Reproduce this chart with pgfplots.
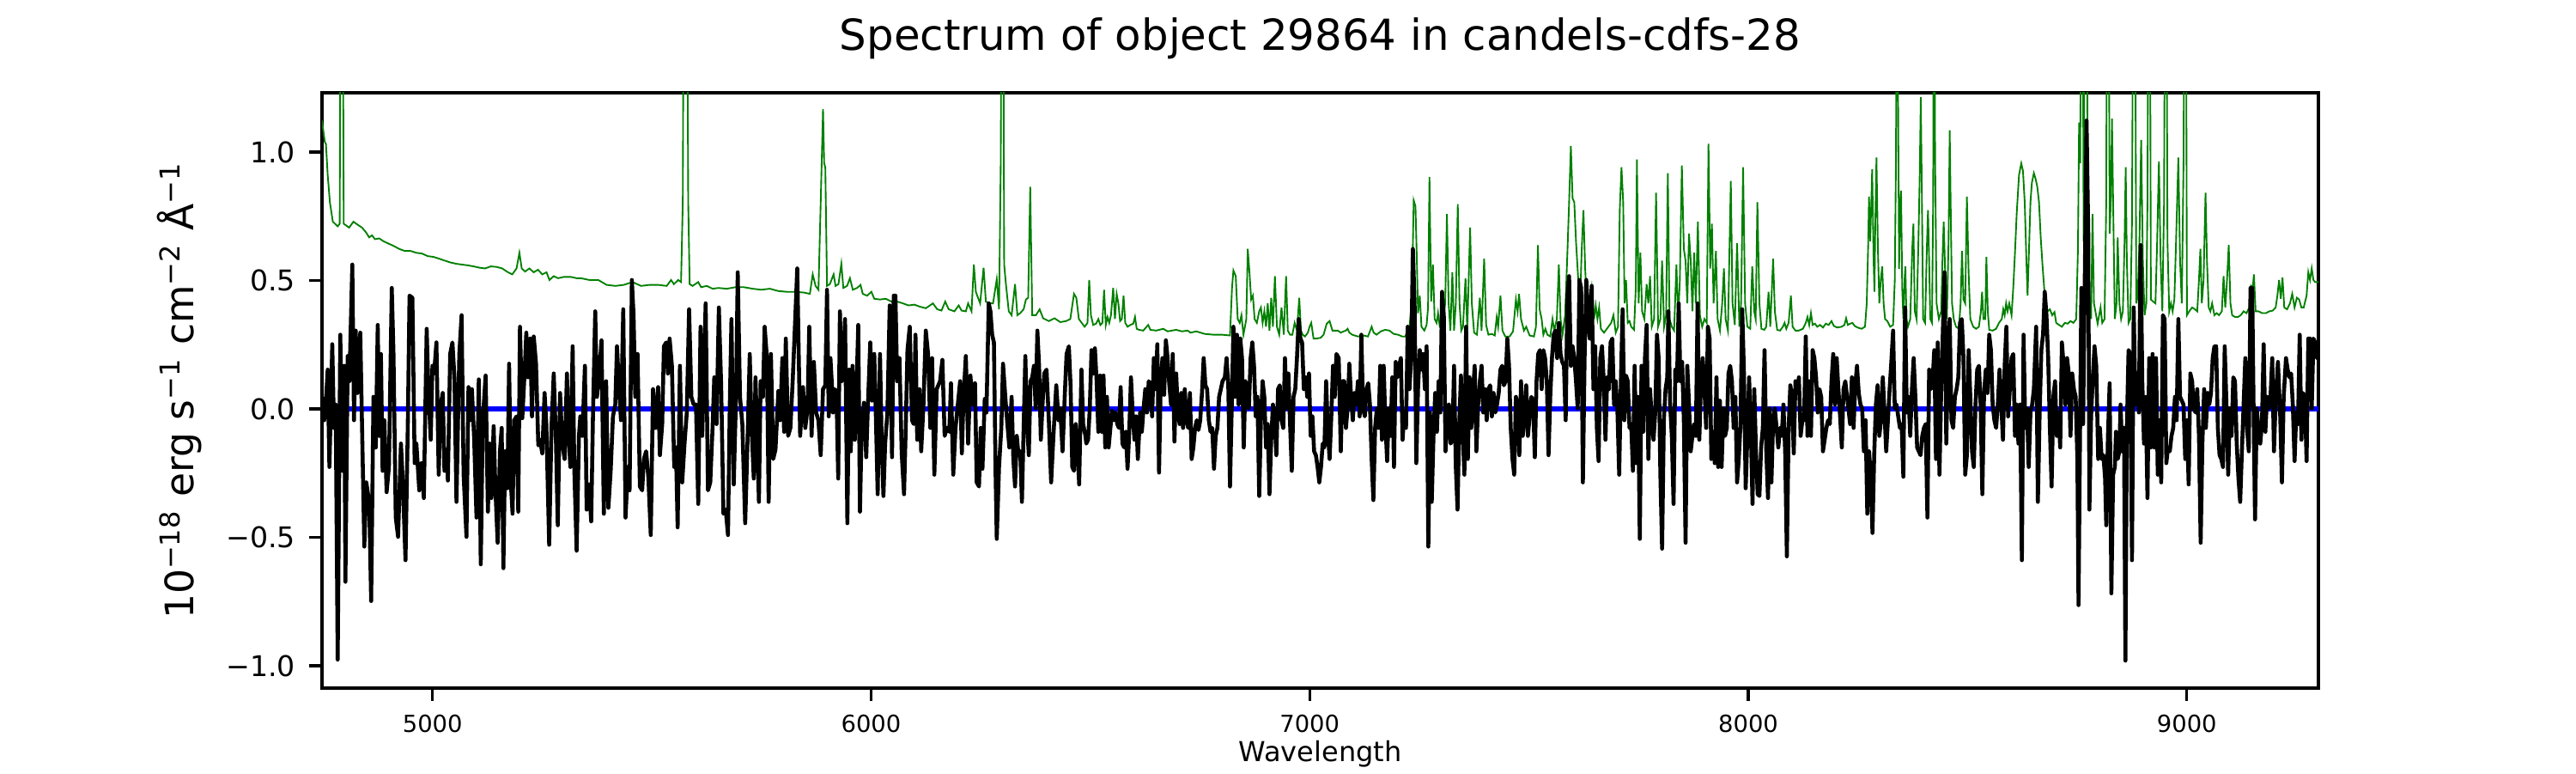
\documentclass[border=0pt]{standalone}
\usepackage{fontspec}
\setmainfont{DejaVu Sans}
\usepackage{pgfplots}
\usepackage{pgfplotstable}
\pgfplotsset{compat=1.18}
\definecolor{mplgreen}{HTML}{008000}

\pgfplotstableread{
x y
4748.0 1.123
4754.4 1.039
4757.0 1.032
4761.0 0.911
4766.0 0.805
4772.7 0.729
4783.8 0.711
4788.4 0.721
4791.0 2.0
4794.9 2.0
4797.5 0.721
4803.4 0.714
4809.9 0.706
4819.7 0.729
4829.5 0.717
4839.3 0.706
4849.0 0.686
4855.6 0.668
4862.1 0.676
4868.6 0.661
4878.4 0.664
4888.2 0.653
4898.0 0.645
4911.0 0.635
4924.0 0.623
4937.0 0.615
4950.0 0.615
4963.0 0.608
4976.0 0.605
4989.0 0.595
5002.0 0.592
5015.0 0.585
5028.5 0.577
5041.5 0.570
5054.6 0.565
5067.6 0.562
5080.7 0.559
5093.7 0.555
5106.8 0.550
5119.8 0.547
5132.9 0.555
5146.0 0.553
5159.0 0.547
5172.0 0.532
5181.8 0.524
5191.6 0.547
5198.1 0.608
5203.4 0.547
5211.0 0.535
5221.0 0.547
5230.7 0.532
5240.5 0.542
5250.3 0.524
5260.0 0.532
5266.6 0.502
5276.4 0.517
5286.2 0.509
5299.3 0.514
5315.6 0.514
5328.6 0.509
5338.0 0.509
5358.0 0.502
5378.0 0.502
5397.0 0.483
5417.0 0.479
5436.0 0.483
5456.0 0.494
5475.4 0.479
5495.0 0.483
5514.5 0.483
5534.0 0.479
5543.9 0.502
5550.4 0.486
5560.2 0.502
5566.7 0.494
5570.6 0.805
5573.3 2.0
5579.8 2.0
5583.0 0.805
5586.3 0.486
5592.8 0.479
5605.9 0.494
5612.4 0.474
5625.5 0.479
5638.5 0.468
5651.6 0.471
5671.0 0.468
5690.7 0.474
5710.0 0.474
5729.9 0.468
5749.4 0.464
5769.0 0.468
5788.6 0.459
5808.0 0.456
5827.7 0.456
5847.3 0.453
5860.4 0.448
5866.9 0.524
5873.4 0.479
5880.0 0.464
5885.1 0.805
5890.4 1.168
5893.0 0.956
5895.6 0.941
5899.5 0.479
5906.0 0.486
5914.5 0.524
5919.0 0.479
5925.6 0.486
5932.2 0.565
5936.7 0.471
5945.2 0.479
5951.7 0.509
5958.3 0.464
5968.0 0.471
5975.9 0.483
5981.0 0.448
5990.9 0.441
6000.7 0.456
6007.2 0.429
6020.2 0.426
6033.3 0.429
6046.4 0.418
6059.4 0.418
6072.5 0.411
6085.5 0.403
6098.6 0.406
6111.6 0.398
6124.7 0.392
6141.0 0.411
6150.8 0.388
6160.5 0.383
6169.0 0.418
6176.9 0.388
6189.9 0.380
6199.7 0.403
6206.2 0.383
6216.0 0.380
6221.2 0.411
6229.0 0.380
6234.3 0.562
6238.8 0.456
6248.6 0.411
6256.5 0.550
6261.7 0.418
6268.2 0.411
6278.0 0.411
6286.5 0.505
6291.7 0.388
6295.6 0.956
6298.2 2.0
6300.8 2.0
6303.4 0.562
6307.4 0.486
6313.9 0.380
6320.4 0.365
6328.2 0.486
6333.5 0.365
6340.0 0.373
6347.8 0.388
6353.0 0.426
6358.2 0.433
6362.8 0.865
6367.4 0.365
6375.9 0.365
6384.3 0.388
6392.2 0.353
6405.2 0.342
6418.3 0.353
6431.3 0.338
6444.4 0.342
6454.2 0.350
6462.6 0.448
6467.9 0.433
6473.7 0.350
6486.8 0.320
6493.4 0.335
6497.3 0.502
6501.2 0.365
6506.4 0.327
6513.0 0.332
6518.1 0.350
6522.7 0.327
6527.3 0.335
6531.2 0.464
6535.1 0.327
6539.0 0.358
6543.0 0.335
6546.9 0.365
6552.0 0.471
6556.0 0.350
6559.9 0.448
6563.8 0.411
6567.7 0.342
6571.7 0.350
6575.6 0.441
6579.5 0.335
6584.7 0.320
6591.2 0.327
6597.8 0.332
6601.7 0.358
6605.6 0.312
6610.8 0.308
6620.6 0.305
6631.7 0.327
6636.9 0.308
6650.0 0.305
6666.3 0.312
6676.0 0.302
6695.6 0.308
6708.7 0.302
6721.7 0.305
6728.3 0.297
6741.3 0.302
6760.9 0.292
6780.5 0.289
6800.0 0.289
6818.3 0.286
6822.9 0.471
6826.1 0.539
6831.4 0.517
6835.9 0.350
6840.5 0.335
6844.4 0.365
6849.0 0.289
6855.5 0.350
6858.8 0.623
6862.7 0.532
6866.6 0.426
6870.5 0.441
6874.4 0.350
6879.6 0.335
6884.9 0.380
6888.8 0.395
6892.7 0.335
6896.6 0.380
6900.5 0.320
6904.4 0.411
6908.3 0.305
6912.3 0.433
6916.2 0.320
6920.7 0.517
6925.3 0.320
6930.5 0.289
6935.8 0.395
6941.0 0.289
6946.2 0.517
6950.1 0.305
6955.3 0.289
6960.5 0.289
6965.7 0.335
6971.0 0.305
6976.2 0.433
6980.1 0.305
6984.0 0.289
6989.3 0.282
6995.8 0.297
6999.7 0.320
7003.6 0.335
7008.8 0.274
7015.4 0.274
7025.1 0.277
7031.7 0.289
7038.8 0.332
7045.4 0.342
7051.9 0.305
7064.3 0.305
7070.9 0.297
7077.4 0.302
7082.6 0.305
7086.5 0.312
7090.4 0.297
7097.0 0.289
7110.0 0.282
7123.0 0.286
7132.8 0.282
7141.3 0.320
7145.9 0.297
7152.4 0.289
7162.2 0.302
7172.0 0.308
7181.8 0.305
7191.6 0.292
7201.4 0.289
7211.1 0.282
7218.3 0.282
7222.2 0.305
7227.5 0.320
7232.7 0.411
7237.2 0.812
7241.2 0.789
7244.4 0.577
7247.0 0.373
7251.0 0.441
7254.9 0.320
7261.4 0.305
7266.6 0.327
7269.9 0.395
7273.1 0.903
7277.0 0.418
7281.0 0.562
7284.9 0.350
7289.4 0.335
7292.7 0.373
7296.6 0.320
7300.5 0.312
7304.4 0.350
7309.0 0.411
7312.9 0.759
7316.8 0.411
7320.8 0.305
7325.3 0.532
7329.2 0.305
7333.2 0.411
7337.7 0.797
7341.6 0.411
7345.6 0.305
7349.5 0.320
7355.3 0.509
7359.3 0.305
7365.8 0.706
7369.7 0.411
7374.9 0.297
7381.4 0.289
7388.0 0.433
7391.9 0.305
7397.8 0.585
7402.3 0.327
7407.5 0.289
7415.4 0.292
7421.9 0.286
7426.5 0.358
7429.7 0.320
7435.0 0.441
7439.5 0.305
7446.0 0.282
7455.8 0.282
7463.7 0.302
7470.2 0.426
7474.1 0.380
7477.4 0.448
7481.9 0.350
7488.5 0.305
7493.7 0.320
7501.5 0.286
7511.3 0.282
7515.9 0.320
7520.4 0.638
7524.3 0.388
7528.9 0.350
7532.8 0.289
7537.4 0.312
7542.0 0.289
7548.5 0.282
7553.7 0.350
7557.6 0.305
7563.5 0.350
7568.1 0.562
7572.0 0.350
7576.5 0.289
7582.4 0.365
7587.6 0.608
7591.5 0.805
7595.5 1.024
7599.4 0.820
7603.3 0.805
7607.2 0.653
7612.4 0.502
7616.4 0.411
7620.3 0.623
7624.2 0.774
7628.1 0.547
7632.0 0.411
7638.5 0.411
7643.0 0.471
7648.3 0.350
7652.2 0.403
7656.1 0.350
7660.0 0.395
7663.9 0.312
7671.1 0.297
7677.6 0.312
7687.4 0.335
7692.6 0.365
7697.8 0.297
7703.0 0.320
7707.0 0.774
7710.9 0.941
7714.8 0.805
7718.0 0.411
7721.3 0.502
7725.2 0.335
7729.2 0.342
7733.1 0.320
7739.6 0.308
7743.5 0.471
7746.1 0.971
7750.0 0.411
7754.0 0.608
7757.9 0.380
7763.1 0.350
7768.3 0.486
7772.2 0.411
7776.1 0.517
7780.0 0.320
7785.3 0.350
7789.8 0.842
7794.4 0.320
7799.6 0.350
7803.5 0.577
7808.1 0.320
7812.7 0.365
7816.6 0.918
7820.5 0.350
7825.7 0.320
7830.9 0.305
7836.2 0.562
7840.1 0.350
7844.0 0.502
7848.6 0.948
7853.1 0.623
7857.0 0.577
7861.0 0.411
7864.9 0.683
7868.8 0.577
7872.7 0.380
7876.6 0.608
7880.5 0.411
7885.1 0.729
7889.7 0.365
7894.9 0.320
7900.1 0.350
7905.3 0.335
7909.3 1.032
7913.2 0.547
7917.1 0.721
7921.0 0.411
7926.2 0.615
7930.1 0.350
7935.4 0.305
7940.6 0.411
7944.5 0.547
7948.4 0.350
7953.6 0.305
7960.2 0.888
7964.1 0.411
7969.3 0.327
7974.5 0.645
7979.7 0.320
7983.6 0.411
7988.2 0.941
7992.8 0.411
7998.0 0.320
8004.5 0.312
8009.1 0.555
8013.6 0.380
8016.9 0.350
8020.8 0.805
8025.4 0.411
8030.0 0.312
8036.5 0.308
8041.0 0.320
8046.3 0.456
8050.2 0.320
8056.7 0.585
8060.6 0.380
8065.9 0.308
8072.4 0.305
8078.9 0.320
8082.8 0.335
8086.7 0.312
8092.0 0.335
8097.2 0.441
8101.1 0.320
8107.6 0.305
8114.8 0.305
8124.6 0.312
8131.1 0.335
8135.0 0.358
8139.0 0.327
8142.9 0.373
8146.8 0.327
8152.0 0.332
8157.2 0.320
8163.7 0.327
8170.3 0.317
8176.8 0.332
8183.3 0.327
8189.8 0.342
8195.1 0.323
8202.9 0.317
8212.7 0.320
8219.2 0.327
8223.1 0.353
8227.0 0.327
8232.3 0.332
8237.5 0.335
8242.7 0.323
8249.2 0.317
8258.4 0.312
8266.2 0.320
8270.1 0.411
8273.4 0.638
8275.3 0.827
8278.0 0.653
8280.6 0.805
8282.5 0.933
8285.8 0.577
8287.7 0.456
8289.7 0.729
8292.3 0.979
8295.6 0.623
8298.8 0.411
8302.1 0.502
8305.4 0.555
8308.6 0.411
8311.9 0.350
8317.1 0.342
8323.6 0.320
8330.2 0.327
8334.1 0.502
8336.7 0.956
8339.3 2.0
8341.9 1.108
8343.9 0.545
8346.5 0.805
8348.4 0.850
8351.0 0.471
8353.6 0.350
8356.3 0.502
8358.2 0.555
8360.8 0.350
8364.1 0.320
8369.3 0.350
8373.9 0.623
8376.5 0.721
8379.7 0.380
8383.7 0.350
8387.6 0.623
8390.8 0.896
8393.4 1.214
8396.0 0.805
8398.7 0.350
8403.2 0.335
8407.1 0.623
8409.8 0.774
8412.4 0.577
8415.0 0.350
8418.9 0.335
8421.5 0.805
8423.5 2.0
8426.1 0.956
8429.3 0.411
8434.6 0.350
8439.8 0.380
8443.0 0.592
8445.6 0.729
8448.9 0.532
8452.8 0.350
8456.7 0.653
8459.3 1.085
8462.0 0.729
8464.6 0.411
8468.5 0.350
8473.7 0.320
8480.2 0.312
8484.1 0.411
8487.4 0.615
8490.7 0.426
8494.6 0.411
8498.5 0.827
8502.4 0.532
8506.3 0.350
8512.9 0.320
8519.4 0.312
8525.9 0.320
8530.5 0.380
8533.1 0.456
8536.3 0.350
8540.3 0.350
8542.9 0.592
8546.1 0.380
8549.4 0.308
8557.2 0.305
8565.1 0.312
8571.6 0.335
8578.1 0.350
8581.4 0.388
8584.6 0.365
8587.9 0.411
8591.2 0.380
8595.1 0.411
8600.3 0.365
8604.2 0.471
8608.1 0.608
8612.0 0.759
8617.3 0.911
8622.5 0.956
8626.4 0.926
8630.3 0.805
8634.2 0.577
8636.8 0.441
8640.7 0.653
8643.4 0.805
8646.6 0.880
8651.2 0.918
8655.1 0.896
8659.0 0.865
8662.9 0.805
8666.8 0.668
8670.8 0.562
8674.7 0.471
8678.6 0.403
8682.5 0.380
8687.7 0.388
8693.0 0.365
8698.2 0.377
8702.1 0.335
8708.6 0.327
8715.1 0.320
8721.7 0.335
8728.2 0.332
8734.7 0.342
8741.2 0.335
8747.8 0.350
8751.7 0.623
8754.3 1.115
8756.9 0.956
8759.5 2.0
8762.1 2.0
8764.7 0.653
8767.3 2.0
8771.3 2.0
8773.9 0.805
8777.8 0.411
8781.7 0.350
8785.0 0.759
8788.2 0.411
8796.6 0.332
8803.2 0.395
8807.1 0.335
8812.3 0.350
8816.2 0.805
8818.2 2.0
8821.4 2.0
8824.0 0.683
8826.6 0.805
8829.3 1.130
8831.9 0.805
8835.8 0.350
8839.7 0.411
8842.3 0.668
8846.2 0.411
8850.1 0.350
8854.1 0.380
8858.0 0.653
8860.6 0.941
8863.2 0.577
8867.1 0.335
8871.0 0.350
8874.9 0.729
8878.2 2.0
8881.5 2.0
8884.7 0.411
8888.0 0.441
8891.9 0.653
8895.8 1.047
8899.7 0.577
8903.6 0.365
8907.6 0.411
8910.2 0.805
8912.8 2.0
8915.4 2.0
8918.0 0.426
8923.2 0.418
8928.4 0.411
8932.3 0.653
8936.3 0.964
8940.2 0.577
8944.1 0.380
8948.0 0.805
8950.6 2.0
8953.2 2.0
8955.8 0.653
8959.8 0.380
8963.7 0.411
8967.6 0.380
8971.5 0.426
8975.4 0.653
8980.6 0.979
8984.5 0.577
8988.5 0.411
8992.4 0.956
8995.0 2.0
8997.6 2.0
9000.2 0.365
9005.4 0.380
9012.0 0.395
9018.5 0.388
9023.7 0.380
9027.6 0.502
9030.9 0.623
9034.1 0.411
9038.1 0.502
9042.6 0.842
9045.9 0.577
9049.8 0.395
9053.7 0.380
9057.6 0.411
9062.8 0.365
9068.1 0.373
9073.3 0.365
9079.8 0.380
9083.7 0.517
9087.6 0.395
9091.6 0.502
9095.5 0.638
9099.4 0.411
9103.3 0.365
9109.8 0.358
9116.4 0.358
9122.9 0.365
9129.4 0.380
9135.9 0.373
9142.5 0.395
9146.4 0.479
9150.3 0.471
9152.9 0.524
9156.8 0.380
9163.3 0.380
9171.8 0.373
9180.3 0.373
9188.1 0.380
9196.0 0.383
9202.5 0.395
9206.4 0.441
9210.3 0.502
9214.2 0.429
9218.1 0.512
9222.1 0.395
9228.6 0.388
9235.1 0.411
9240.3 0.448
9245.6 0.395
9250.8 0.433
9256.0 0.426
9261.2 0.395
9266.4 0.395
9273.0 0.441
9276.9 0.532
9280.8 0.502
9284.7 0.547
9288.6 0.502
9292.5 0.494
9297.7 0.494
9300.4 0.494
}\skydata

\pgfplotstableread{
x y
4749.2 0.047
4753.1 -0.044
4757.0 0.032
4761.0 0.153
4764.9 -0.226
4771.4 0.252
4775.3 -0.074
4779.2 0.017
4783.8 -0.976
4789.7 0.289
4794.9 -0.241
4798.8 0.168
4801.4 -0.673
4806.6 0.206
4810.5 0.108
4817.1 0.562
4821.0 -0.044
4824.9 0.305
4828.8 0.062
4835.3 0.297
4844.5 -0.536
4849.0 -0.286
4855.6 -0.362
4860.1 -0.748
4865.3 0.047
4870.6 -0.150
4875.1 0.327
4878.4 -0.105
4882.3 0.214
4886.2 -0.241
4890.1 -0.044
4895.4 -0.324
4900.6 -0.226
4907.1 0.471
4911.0 0.214
4916.2 -0.423
4921.5 -0.498
4928.0 -0.135
4931.9 -0.271
4938.4 -0.589
4943.7 -0.059
4947.6 0.441
4954.1 0.433
4959.3 -0.211
4963.2 -0.135
4969.8 -0.317
4975.0 -0.211
4980.2 -0.347
4986.7 0.312
4990.6 0.077
4995.9 -0.120
4999.8 0.168
5003.7 0.138
5008.9 0.259
5014.1 -0.256
5018.7 0.017
5023.3 0.062
5027.2 -0.241
5032.4 -0.158
5035.0 -0.279
5040.2 0.214
5045.4 0.259
5050.0 0.123
5054.6 -0.362
5061.1 0.214
5066.3 0.365
5070.9 -0.256
5077.4 -0.498
5082.0 0.085
5085.9 -0.044
5089.8 0.077
5095.0 -0.120
5100.3 -0.423
5105.5 0.115
5110.0 -0.605
5114.6 -0.044
5121.1 0.130
5126.3 -0.400
5130.3 -0.135
5134.2 -0.347
5139.4 -0.067
5143.3 -0.309
5148.5 -0.521
5153.8 -0.165
5157.7 -0.074
5161.6 -0.620
5165.5 -0.165
5170.7 -0.309
5174.6 0.176
5178.6 -0.286
5182.5 -0.408
5186.4 -0.044
5191.6 -0.029
5195.5 -0.400
5199.4 0.320
5204.7 -0.036
5209.9 0.138
5213.8 0.297
5217.7 0.123
5222.9 0.274
5226.8 -0.029
5230.8 0.282
5236.0 0.176
5241.2 -0.142
5245.1 -0.120
5250.3 -0.173
5255.5 0.062
5259.5 -0.059
5266.0 -0.529
5271.2 -0.074
5276.4 0.138
5281.6 -0.135
5285.6 -0.453
5290.8 0.062
5296.0 -0.135
5301.2 -0.195
5306.5 0.138
5310.4 -0.105
5314.3 -0.226
5319.5 0.244
5323.4 -0.241
5328.6 -0.552
5333.9 -0.105
5337.0 -0.029
5341.6 -0.105
5347.5 0.168
5351.4 -0.392
5356.6 -0.294
5361.8 -0.438
5365.8 -0.029
5371.0 0.380
5374.9 0.047
5378.8 0.108
5385.3 0.267
5390.6 -0.408
5395.8 0.108
5401.0 -0.385
5406.2 -0.241
5411.4 -0.029
5416.7 0.017
5420.6 0.244
5424.5 0.108
5429.7 -0.044
5434.9 0.388
5440.1 -0.423
5445.4 -0.226
5449.3 -0.317
5454.5 0.502
5458.4 0.365
5462.3 0.047
5467.5 0.214
5472.8 -0.302
5478.0 -0.317
5481.9 -0.195
5487.1 -0.165
5492.3 -0.271
5497.6 -0.491
5502.8 0.077
5508.0 -0.074
5514.5 0.085
5518.4 -0.180
5523.7 -0.059
5527.6 0.244
5532.8 0.259
5536.7 0.138
5540.6 0.274
5545.8 0.168
5551.1 -0.226
5555.0 -0.150
5558.9 -0.461
5564.1 0.168
5569.3 -0.286
5574.6 -0.135
5579.8 -0.014
5585.0 0.388
5590.2 0.047
5595.4 0.017
5600.7 0.017
5605.9 -0.370
5611.1 0.320
5615.0 -0.105
5618.9 0.168
5622.8 0.411
5628.1 -0.317
5633.3 -0.286
5638.5 -0.074
5642.4 0.123
5647.6 -0.059
5652.9 0.395
5658.1 0.092
5663.3 -0.408
5668.5 -0.392
5673.7 -0.491
5677.7 0.002
5681.6 0.350
5686.8 -0.294
5692.0 0.047
5695.9 0.532
5701.1 0.047
5706.4 -0.059
5712.9 -0.445
5718.1 -0.135
5723.3 0.214
5727.2 -0.059
5732.5 -0.271
5736.4 0.123
5740.3 -0.105
5744.2 -0.362
5748.1 0.108
5753.3 0.047
5757.3 0.320
5762.5 0.198
5766.4 -0.362
5771.6 0.214
5776.8 -0.195
5782.0 -0.158
5788.6 0.070
5792.5 -0.044
5797.7 0.198
5801.6 -0.089
5805.5 0.274
5810.8 -0.105
5816.0 -0.074
5821.2 0.108
5827.7 0.380
5831.6 0.547
5838.2 -0.105
5844.7 0.085
5849.9 -0.074
5855.1 0.002
5859.0 0.320
5864.3 -0.105
5869.5 0.183
5874.7 -0.014
5879.9 -0.044
5885.1 -0.180
5890.4 0.077
5895.6 0.092
5899.5 0.464
5903.4 -0.029
5907.3 0.198
5911.2 0.077
5913.2 -0.014
5917.2 0.077
5921.1 0.062
5925.0 -0.271
5928.9 0.380
5932.8 0.108
5936.7 0.198
5940.6 0.350
5945.9 -0.445
5949.8 0.153
5953.7 -0.165
5957.6 0.168
5962.8 -0.120
5966.7 0.077
5970.7 0.327
5974.6 -0.400
5978.5 -0.074
5983.7 0.024
5988.9 -0.188
5992.8 0.017
5998.1 0.259
6002.0 0.032
6007.2 0.214
6011.1 -0.044
6015.0 -0.332
6020.3 0.214
6024.2 -0.135
6028.1 -0.339
6032.0 -0.135
6037.2 -0.014
6042.4 0.403
6047.7 -0.188
6051.6 0.441
6055.5 0.441
6059.4 0.108
6064.6 0.198
6069.8 -0.173
6075.1 -0.332
6079.0 -0.074
6082.9 0.229
6088.1 0.320
6093.3 -0.044
6097.2 -0.059
6101.2 0.289
6105.1 -0.120
6110.3 0.077
6114.2 -0.165
6119.4 0.017
6124.7 0.305
6129.9 0.214
6135.1 -0.074
6139.0 0.198
6144.2 -0.256
6149.5 0.077
6157.3 0.108
6162.5 0.191
6167.7 -0.105
6172.9 -0.074
6178.2 -0.089
6182.1 0.100
6187.3 -0.256
6192.5 -0.074
6197.7 0.017
6203.0 0.108
6206.9 -0.173
6210.8 0.047
6216.0 0.206
6221.2 -0.135
6226.4 0.130
6231.7 0.017
6236.9 0.100
6240.8 -0.286
6246.0 -0.302
6249.9 -0.074
6253.9 -0.233
6259.1 0.039
6263.0 -0.014
6268.2 0.411
6272.1 0.380
6276.0 0.289
6280.0 0.259
6283.9 -0.256
6286.5 -0.506
6291.7 -0.226
6296.9 -0.074
6300.8 0.176
6306.0 0.047
6310.0 -0.044
6315.2 -0.150
6320.4 0.047
6324.3 -0.195
6328.2 -0.302
6332.2 -0.105
6336.1 -0.180
6340.0 -0.165
6343.9 -0.362
6347.8 -0.074
6351.7 0.206
6355.6 -0.059
6359.6 -0.180
6363.5 0.108
6367.4 0.123
6371.3 0.168
6375.2 0.002
6379.1 0.305
6383.0 0.168
6387.0 -0.120
6390.9 0.017
6394.8 0.138
6400.0 0.153
6405.2 -0.044
6410.5 -0.286
6415.7 -0.105
6422.2 0.092
6427.4 -0.044
6431.3 0.002
6436.5 -0.165
6441.8 0.062
6445.7 0.214
6450.9 0.244
6454.8 0.092
6458.7 -0.226
6462.6 -0.241
6466.6 -0.059
6470.5 -0.150
6474.4 -0.294
6479.6 0.153
6483.5 -0.059
6488.7 -0.105
6490.7 -0.135
6494.7 -0.120
6498.6 0.002
6502.5 0.229
6506.4 0.138
6510.3 0.236
6514.2 0.108
6518.1 -0.089
6522.1 0.130
6526.0 -0.089
6529.9 0.130
6533.8 -0.150
6537.7 0.047
6541.6 -0.150
6545.6 -0.074
6549.5 -0.006
6553.4 -0.044
6557.3 -0.014
6561.2 -0.059
6565.1 -0.074
6569.0 0.085
6573.0 -0.135
6576.9 -0.150
6580.8 -0.089
6584.7 -0.233
6588.6 -0.089
6592.5 0.123
6596.4 -0.014
6600.4 -0.120
6604.3 -0.029
6608.2 -0.195
6613.4 -0.014
6617.3 -0.089
6621.2 0.002
6625.2 0.077
6629.1 -0.014
6633.0 0.108
6636.9 0.092
6640.8 -0.029
6644.7 0.198
6648.6 0.077
6652.6 0.252
6656.5 -0.248
6660.4 0.108
6664.3 0.198
6668.2 0.055
6672.1 0.267
6676.1 0.198
6680.0 0.092
6683.9 0.017
6687.8 0.214
6691.7 -0.127
6695.6 0.138
6699.5 -0.014
6703.5 -0.059
6707.4 0.062
6711.3 -0.074
6715.2 0.077
6719.1 -0.044
6723.0 -0.074
6727.0 0.062
6730.9 -0.195
6734.8 -0.150
6738.7 -0.074
6742.6 -0.044
6746.5 -0.082
6750.4 -0.044
6754.4 0.062
6758.3 0.198
6762.2 0.092
6766.1 0.077
6770.0 -0.044
6773.9 -0.089
6777.8 -0.074
6781.8 -0.233
6785.7 -0.105
6789.6 -0.074
6793.5 0.047
6797.4 0.077
6801.3 0.108
6806.6 0.123
6810.5 0.198
6814.4 0.092
6818.3 -0.302
6822.2 0.002
6826.1 0.320
6830.0 0.047
6834.0 0.289
6837.9 0.017
6841.8 0.274
6845.7 0.198
6849.6 -0.150
6853.5 0.108
6857.4 0.017
6861.4 0.002
6865.3 0.198
6869.2 0.259
6873.1 0.168
6877.0 -0.029
6880.9 0.047
6884.9 -0.339
6888.8 -0.044
6892.7 0.108
6896.6 0.047
6900.5 -0.150
6904.4 -0.059
6908.3 -0.332
6912.3 -0.120
6916.2 0.017
6920.1 -0.044
6924.0 -0.180
6927.9 0.077
6931.8 0.092
6935.8 -0.044
6939.7 -0.074
6943.6 0.198
6947.5 0.002
6951.4 0.138
6955.3 -0.059
6959.2 -0.241
6963.2 0.047
6967.1 0.077
6971.0 0.198
6974.9 0.350
6978.8 0.274
6982.7 0.259
6986.7 0.077
6990.6 0.123
6994.5 0.047
6998.4 0.138
7002.3 -0.105
7006.2 -0.029
7010.1 -0.165
7014.1 -0.180
7018.0 -0.226
7021.9 -0.286
7025.8 -0.226
7029.7 -0.135
7033.6 -0.150
7037.5 0.108
7041.5 -0.089
7045.4 -0.195
7049.3 -0.029
7053.2 0.168
7057.1 0.047
7061.0 0.214
7066.2 0.198
7070.9 -0.165
7074.8 0.108
7078.7 0.108
7082.6 -0.074
7086.5 0.002
7090.4 0.176
7094.3 0.047
7098.3 -0.044
7102.2 0.062
7106.1 0.017
7110.0 0.108
7113.9 -0.029
7117.8 0.289
7121.7 0.002
7125.7 -0.029
7129.6 0.077
7133.5 0.100
7137.4 0.017
7141.3 -0.195
7145.2 -0.355
7149.2 -0.074
7153.1 0.002
7157.0 -0.074
7160.9 0.168
7164.8 -0.120
7168.7 0.168
7172.6 -0.059
7176.6 -0.203
7180.5 0.002
7184.4 -0.105
7188.3 0.123
7192.2 -0.226
7196.1 0.183
7200.0 0.123
7204.0 0.168
7207.9 0.198
7211.8 -0.120
7215.7 -0.014
7219.6 -0.074
7223.5 0.320
7227.5 0.077
7231.4 0.198
7235.3 0.623
7239.2 0.411
7243.1 -0.211
7247.0 0.077
7251.0 0.229
7254.9 0.153
7258.8 0.214
7262.7 0.077
7266.6 0.244
7270.5 -0.536
7274.4 -0.014
7278.3 -0.362
7282.3 -0.105
7286.2 0.062
7290.1 -0.089
7294.0 0.108
7297.9 -0.014
7301.8 0.456
7305.8 0.365
7309.7 -0.165
7313.6 -0.044
7317.5 0.017
7321.4 -0.135
7325.3 -0.120
7329.2 0.168
7333.2 -0.226
7337.1 -0.392
7341.0 -0.059
7344.9 0.130
7348.8 -0.089
7352.7 -0.256
7356.6 0.320
7360.6 -0.195
7364.5 0.123
7368.4 -0.074
7372.3 0.062
7376.2 0.168
7380.1 -0.165
7384.1 0.017
7388.0 0.108
7391.9 0.168
7395.8 -0.014
7399.7 0.077
7403.6 -0.044
7407.5 0.077
7411.5 0.092
7415.4 -0.029
7419.3 0.062
7423.2 -0.014
7427.1 0.017
7431.0 0.062
7434.9 0.153
7438.9 0.168
7442.8 0.092
7446.7 0.108
7450.6 0.274
7454.5 0.168
7458.4 -0.074
7462.4 -0.195
7466.3 -0.256
7470.2 0.047
7474.1 0.017
7478.0 -0.180
7481.9 0.108
7485.8 -0.105
7489.8 -0.029
7493.7 0.092
7497.6 -0.105
7501.5 -0.029
7505.4 0.047
7509.3 0.032
7513.3 -0.188
7517.2 0.108
7521.1 0.214
7525.0 0.229
7528.9 0.077
7532.8 0.229
7536.7 0.198
7540.7 0.108
7544.6 -0.180
7548.5 0.047
7552.4 0.198
7556.3 0.289
7560.2 0.305
7564.2 0.198
7568.1 0.335
7572.0 0.214
7575.9 0.183
7579.8 0.168
7583.7 -0.044
7587.6 0.441
7591.5 0.517
7595.5 0.168
7599.4 0.244
7603.3 0.198
7607.2 0.108
7611.1 0.002
7615.0 0.502
7619.0 0.471
7622.9 -0.286
7626.8 0.198
7630.7 0.502
7634.6 0.380
7638.5 0.274
7643.0 0.479
7647.0 0.077
7650.9 0.244
7654.8 -0.074
7658.7 -0.203
7662.6 0.198
7666.5 0.244
7670.4 0.108
7674.4 -0.120
7678.3 0.123
7682.2 0.077
7686.1 0.259
7690.0 0.274
7693.9 0.017
7697.8 0.108
7701.8 -0.014
7705.7 -0.256
7709.6 0.108
7713.5 0.388
7717.4 -0.044
7721.3 0.130
7725.2 0.108
7729.2 -0.074
7733.1 -0.059
7737.0 -0.241
7740.9 0.168
7744.8 -0.211
7748.7 0.047
7752.7 -0.506
7756.6 0.168
7760.5 -0.089
7764.4 0.198
7768.3 0.327
7772.2 -0.195
7776.1 0.077
7780.1 -0.044
7784.0 -0.120
7787.9 -0.014
7791.8 0.289
7795.7 0.198
7799.6 -0.256
7803.5 -0.544
7807.5 -0.044
7811.4 0.077
7815.3 0.123
7817.9 0.380
7821.8 0.017
7825.7 -0.105
7829.7 -0.370
7833.6 0.153
7837.5 0.108
7841.4 0.411
7845.3 0.108
7849.2 0.183
7853.1 -0.044
7857.1 -0.521
7861.0 0.168
7864.9 0.017
7868.8 -0.165
7872.7 -0.105
7876.6 -0.059
7880.5 -0.105
7884.5 0.411
7888.4 -0.120
7892.3 0.108
7896.2 0.198
7900.1 0.077
7904.0 -0.074
7908.0 0.320
7911.9 0.274
7915.8 -0.195
7919.7 -0.089
7923.6 -0.211
7927.5 0.123
7931.4 -0.226
7935.4 0.032
7939.3 -0.226
7943.2 0.002
7947.1 -0.105
7951.0 -0.074
7954.9 0.138
7958.8 0.168
7962.8 0.108
7966.7 -0.074
7970.6 0.047
7974.5 -0.286
7978.4 -0.195
7982.3 -0.059
7986.2 0.388
7990.2 0.138
7994.1 -0.309
7998.0 -0.105
8001.9 0.123
8005.8 -0.074
8009.7 -0.370
8013.7 0.077
8017.6 -0.165
8021.5 -0.332
8025.4 -0.339
8029.3 -0.150
8033.2 -0.074
8037.1 0.229
8041.1 -0.165
8045.0 -0.347
8048.9 0.002
8052.8 -0.286
8056.7 -0.044
8060.6 0.002
8064.6 -0.074
8068.5 -0.150
8072.4 -0.074
8076.3 -0.105
8080.2 0.017
8084.1 -0.165
8088.0 -0.574
8092.0 -0.074
8095.9 0.092
8099.8 0.047
8103.7 -0.173
8107.6 0.108
8111.5 0.062
8115.4 0.123
8119.4 -0.105
8123.3 -0.044
8127.2 -0.044
8131.1 0.282
8135.0 -0.105
8138.9 0.108
8142.9 -0.105
8146.8 0.229
8150.7 0.198
8154.6 0.123
8158.5 -0.014
8162.4 0.077
8166.3 0.047
8170.3 -0.165
8174.2 -0.120
8178.1 -0.074
8182.0 -0.044
8185.9 -0.059
8189.8 0.108
8193.7 0.214
8197.7 0.017
8201.6 0.198
8205.5 0.077
8209.4 -0.029
8213.3 -0.150
8217.2 0.077
8221.2 0.108
8232.3 -0.059
8236.2 0.123
8240.1 -0.074
8244.0 0.092
8247.9 0.168
8251.9 0.062
8255.8 0.017
8259.7 0.002
8263.6 -0.165
8267.5 -0.044
8271.4 -0.408
8275.3 -0.165
8279.3 -0.256
8283.2 -0.483
8287.1 -0.180
8291.0 0.017
8294.9 0.092
8298.8 -0.105
8302.7 -0.044
8306.7 0.123
8310.6 -0.014
8314.5 -0.165
8318.4 -0.044
8322.3 0.077
8326.2 0.183
8330.2 0.305
8334.1 0.002
8338.0 0.017
8341.9 -0.029
8345.8 -0.074
8349.7 -0.059
8353.6 -0.264
8357.6 0.395
8361.5 -0.014
8365.4 0.047
8369.3 -0.105
8373.2 0.077
8377.1 0.198
8381.0 0.047
8385.0 -0.150
8388.9 -0.165
8392.8 -0.180
8396.7 -0.105
8400.6 -0.074
8404.5 -0.059
8408.5 -0.423
8412.4 0.153
8416.3 0.077
8420.2 0.108
8424.1 0.229
8428.0 -0.195
8431.9 0.259
8435.9 -0.256
8439.8 0.062
8443.7 0.305
8447.6 0.532
8451.5 -0.135
8455.4 0.198
8459.3 0.350
8463.3 -0.044
8467.2 -0.074
8471.1 0.047
8475.0 0.077
8478.9 0.123
8482.8 0.335
8486.8 0.350
8490.7 0.198
8494.6 -0.256
8498.5 -0.180
8502.4 0.229
8506.3 0.047
8510.2 -0.165
8514.2 -0.226
8518.1 0.017
8522.0 0.153
8525.9 0.168
8529.8 0.017
8533.7 -0.332
8537.6 0.062
8541.6 0.153
8545.5 0.062
8549.4 0.289
8553.3 0.229
8557.2 0.017
8561.1 -0.044
8565.1 -0.074
8569.0 0.017
8572.9 0.153
8576.8 0.017
8580.7 -0.120
8584.6 0.168
8588.5 0.320
8592.5 -0.029
8596.4 0.077
8600.3 0.198
8604.2 0.214
8608.1 -0.105
8612.0 0.017
8616.0 -0.135
8619.9 0.017
8623.8 -0.589
8627.7 0.289
8631.6 -0.074
8635.5 0.002
8639.4 -0.226
8643.4 -0.014
8647.3 0.017
8651.2 0.077
8656.4 0.320
8660.3 -0.362
8664.2 -0.029
8668.2 0.229
8672.1 0.289
8676.0 0.456
8679.9 0.365
8683.8 0.198
8687.7 -0.074
8691.6 -0.302
8695.6 0.047
8699.5 0.108
8703.4 -0.105
8707.3 -0.014
8711.2 -0.150
8715.1 0.259
8719.1 0.168
8723.0 0.017
8726.9 0.198
8730.8 0.138
8734.7 -0.105
8738.6 0.138
8742.5 0.077
8746.5 0.047
8750.4 -0.195
8753.0 -0.764
8755.6 -0.256
8759.5 0.471
8763.4 -0.059
8767.3 0.502
8771.3 1.123
8775.2 0.683
8777.8 -0.392
8781.7 -0.029
8785.6 0.123
8789.5 0.244
8793.4 0.168
8797.9 -0.195
8801.8 -0.074
8805.8 -0.195
8809.7 -0.180
8813.6 -0.271
8816.2 -0.453
8820.1 -0.105
8824.0 0.100
8827.9 -0.718
8831.9 -0.256
8835.8 -0.226
8838.4 -0.089
8842.3 -0.195
8846.2 -0.165
8848.8 0.017
8852.7 -0.165
8856.7 -0.074
8859.9 -0.980
8863.2 -0.074
8867.1 0.229
8871.0 0.214
8874.9 -0.589
8878.8 0.395
8882.8 0.017
8886.7 0.138
8890.6 -0.014
8894.5 0.638
8898.4 0.108
8902.3 -0.135
8906.2 0.047
8910.2 -0.347
8914.1 0.198
8918.0 -0.150
8921.9 0.214
8925.8 -0.150
8929.7 0.198
8933.7 -0.256
8937.6 -0.044
8941.5 -0.286
8945.4 0.365
8949.3 0.350
8953.2 -0.211
8957.1 -0.150
8961.1 -0.165
8965.0 -0.105
8968.9 -0.074
8972.8 0.047
8976.7 -0.044
8980.6 0.350
8984.5 0.047
8988.5 0.032
8992.4 0.017
8996.3 -0.195
9000.2 -0.044
9004.1 -0.294
9008.0 0.138
9012.0 0.108
9015.9 0.002
9019.8 -0.014
9023.7 0.077
9027.6 -0.105
9031.5 -0.521
9035.4 -0.135
9039.4 0.077
9043.3 -0.074
9047.2 0.062
9051.1 0.017
9055.0 0.062
9058.9 0.198
9062.8 0.244
9066.8 0.244
9070.7 -0.074
9074.6 -0.180
9078.5 -0.195
9082.4 -0.226
9086.3 0.244
9090.3 0.017
9094.2 -0.256
9098.1 0.002
9102.0 -0.105
9105.9 0.123
9109.8 0.108
9113.7 -0.135
9117.7 -0.271
9121.6 -0.362
9125.5 -0.165
9129.4 0.017
9133.3 0.198
9137.2 -0.074
9141.2 -0.165
9145.1 0.471
9149.0 0.471
9152.9 -0.105
9155.5 -0.430
9159.4 0.002
9163.3 -0.074
9167.3 -0.135
9171.2 -0.059
9175.1 0.252
9179.0 -0.089
9182.9 0.047
9186.8 0.002
9190.7 0.047
9194.7 0.198
9198.6 -0.165
9202.5 0.032
9207.7 0.183
9212.9 -0.029
9216.8 -0.286
9220.8 0.047
9226.0 0.198
9229.9 0.153
9233.8 0.123
9237.7 0.138
9241.6 0.017
9245.6 -0.203
9249.5 -0.014
9253.4 -0.059
9257.3 0.289
9261.2 -0.120
9265.1 0.062
9269.0 0.047
9273.0 -0.203
9276.9 0.274
9280.8 0.274
9284.7 0.002
9288.6 0.274
9292.5 0.259
9296.4 0.198
9300.4 0.214
}\specdata

\begin{document}
\begin{tikzpicture}
\path[use as bounding box] (-1.25in,-0.33in) rectangle (8.75in,2.67in);
\begin{axis}[
  at={(0,0)}, anchor=south west,
  scale only axis, width=7.75in, height=2.31in,
  xmin=4748, xmax=9300, ymin=-1.087, ymax=1.231,
  xtick={5000,6000,7000,8000,9000},
  xticklabels={5000,6000,7000,8000,9000},
  ytick={-1,-0.5,0,0.5,1},
  yticklabels={−1.0,−0.5,0.0,0.5,1.0},
  tick align=outside, tick pos=left,
  major tick length=3.5pt,
  every tick/.style={black, line width=0.8pt},
  axis line style={line width=0.8pt},
  xticklabel style={font=\fontsize{6.6}{7}\selectfont, inner sep=0pt, yshift=-3.7pt},
  yticklabel style={font=\fontsize{8}{9}\selectfont, inner sep=0pt, xshift=-3.8pt},
  title={Spectrum of object 29864 in candels-cdfs-28},
  title style={font=\fontsize{12}{14}\selectfont, at={(axis description cs:0.5,1)}, anchor=base, yshift=6pt, inner sep=0pt},
  xlabel={Wavelength},
  xlabel style={font=\fontsize{7.7}{9}\selectfont, at={(axis description cs:0.5,-0.1237)}, anchor=base, inner sep=0pt},
  ylabel={10\textsuperscript{−18} erg s\textsuperscript{−1} cm\textsuperscript{−2} Å\textsuperscript{−1}},
  ylabel style={font=\fontsize{11}{13}\selectfont, at={(axis description cs:-0.0641,0.5)}, anchor=base, rotate=0, inner sep=0pt},
  clip=true,
]
\addplot[mplgreen, line width=0.45pt] table[x=x,y=y] {\skydata};
\addplot[blue, line width=1.4pt] coordinates {(4770,0) (9300,0)};
\addplot[black, line width=1.1pt, line join=round] table[x=x,y=y] {\specdata};
\end{axis}
\end{tikzpicture}
\end{document}
